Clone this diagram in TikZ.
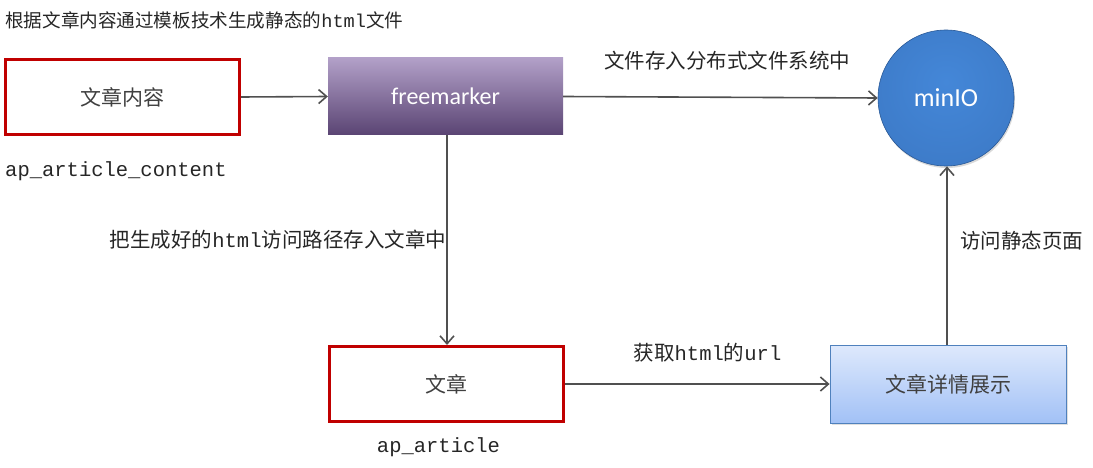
\documentclass[tikz,border=0pt]{standalone}
\usepackage{fontspec}
\setmainfont{Noto Sans CJK SC}
\setmonofont{Liberation Mono}
\newfontfamily\carlitofont{Carlito}
\usetikzlibrary{arrows.meta,shadows}
\definecolor{arr}{HTML}{505050}
\definecolor{redb}{HTML}{C00000}
\definecolor{mA}{HTML}{4487D8}
\definecolor{mB}{HTML}{3B77C3}
\definecolor{mC}{HTML}{2A5A9A}
\pgfdeclareradialshading{minioball}{\pgfpoint{0bp}{6bp}}{color(0bp)=(mA); color(40bp)=(mB); color(51bp)=(mB); color(57bp)=(mC); color(60bp)=(mC)}
\tikzset{
  redbox/.style={draw=redb,line width=3pt,minimum width=234pt,minimum height=75pt,inner sep=0pt,font=\fontsize{21}{23}\selectfont\color{black!75}},
  conn/.style={draw=arr,line width=1.6pt,-{Straight Barb[length=8pt,width=14pt,line width=1.6pt]}},
  lbl/.style={font=\fontsize{20.5}{22}\selectfont\color{black!85},inner sep=0pt},
  mono/.style={font=\fontsize{20.5}{22}\selectfont\ttfamily\color{black!85},inner sep=0pt},
}
\begin{document}
\begin{tikzpicture}[x=1pt,y=-1pt]
\useasboundingbox (0,0) rectangle (1093,468);
\node[lbl,font=\fontsize{18.6}{20}\selectfont\color{black!85},anchor=west] (title) at (5,20) {根据文章内容通过模板技术生成静态的{\ttfamily html}文件};
\node[redbox] (content) at (122.5,97) {文章内容};
\node[mono,anchor=west] (lcontent) at (5,171) {ap\_article\_content};
\node[inner sep=0pt,minimum width=235pt,minimum height=77pt,top color={rgb,255:red,178;green,160;blue,200},bottom color={rgb,255:red,90;green,68;blue,115},font=\carlitofont\fontsize{24}{26}\selectfont\color{white}] (fm) at (445.5,96.5) {freemarker};
\node[circle,minimum size=136pt,inner sep=0pt,shading=minioball,draw={rgb,255:red,40;green,88;blue,150},line width=0.6pt,font=\carlitofont\fontsize{26}{28}\selectfont\color{white},drop shadow={opacity=0.3,shadow xshift=1pt,shadow yshift=-2pt}] (minio) at (946,98) {minIO};
\node[redbox] (article) at (446,384) {文章};
\node[mono] (larticle) at (438.5,447) {ap\_article};
\node[draw={rgb,255:red,79;green,129;blue,189},line width=0.8pt,minimum width=236pt,minimum height=78pt,inner sep=0pt,top color={rgb,255:red,222;green,233;blue,252},bottom color={rgb,255:red,162;green,193;blue,246},font=\fontsize{21}{23}\selectfont\color{black!75},drop shadow={opacity=0.25,shadow xshift=2pt,shadow yshift=-2pt}] (detail) at (948,384) {文章详情展示};
\draw[conn] (content.east) -- (fm.west);
\draw[conn] (fm.east) -- (minio.west);
\node[lbl] (l1) at (727,61) {文件存入分布式文件系统中};
\draw[conn] (fm.south -| 447,0) -- (article.north -| 447,0);
\node[lbl] (l2) at (278,240) {把生成好的{\ttfamily html}访问路径存入文章中};
\draw[conn] (article.east) -- (detail.west);
\node[lbl] (l3) at (707.5,353) {获取{\ttfamily html}的{\ttfamily url}};
\draw[conn] (detail.north -| 947,0) -- (minio.south -| 947,0);
\node[lbl] (l4) at (1021.5,241) {访问静态页面};
\end{tikzpicture}
\end{document}
